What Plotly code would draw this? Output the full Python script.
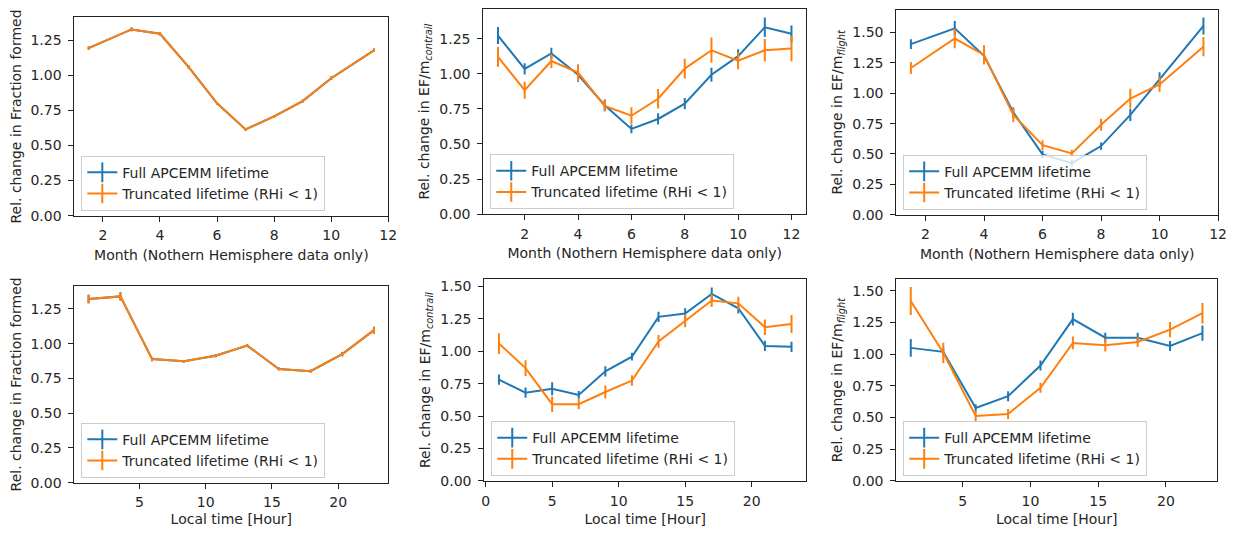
import plotly.graph_objects as go

# page body adds an 8px margin on every side; size the figure so the page is 1243x535
OFF = 8
W, H = 1243 - 2 * OFF, 535 - 2 * OFF
BLUE = "#1f77b4"
ORANGE = "#ff7f0e"
FONT = "DejaVu Sans"
TXT = "#262626"
FS = 14

# ---------------- data ----------------
month_nh = [1.5, 3, 4, 5, 6, 7, 8, 9, 10, 11.5]
month_all = [1, 2, 3, 4, 5, 6, 7, 8, 9, 10, 11, 12]
hour_bins = [1.17, 3.57, 5.96, 8.35, 10.74, 13.13, 15.52, 17.91, 20.30, 22.69]
hour_all = [1, 3, 5, 7, 9, 11, 13, 15, 17, 19, 21, 23]

# Panel 1: fraction formed vs month (both series coincide)
frac_m_full = [1.195, 1.328, 1.297, 1.061, 0.801, 0.615, 0.708, 0.817, 0.980, 1.179]
frac_m_full_err = [0.012, 0.014, 0.013, 0.012, 0.010, 0.010, 0.010, 0.010, 0.012, 0.012]
frac_m_trunc = [1.195, 1.328, 1.297, 1.061, 0.801, 0.615, 0.708, 0.817, 0.980, 1.179]
frac_m_trunc_err = [0.012, 0.014, 0.013, 0.012, 0.010, 0.010, 0.010, 0.010, 0.012, 0.012]

# Panel 2: EF/m_contrail vs month
efc_m_full = [1.273, 1.035, 1.145, 0.993, 0.776, 0.607, 0.678, 0.787, 0.993, 1.126, 1.332, 1.285]
efc_m_full_err = [0.06, 0.04, 0.04, 0.05, 0.04, 0.03, 0.04, 0.04, 0.05, 0.05, 0.07, 0.06]
efc_m_trunc = [1.121, 0.883, 1.091, 1.009, 0.771, 0.701, 0.822, 1.037, 1.168, 1.093, 1.168, 1.180]
efc_m_trunc_err = [0.07, 0.06, 0.05, 0.06, 0.04, 0.06, 0.07, 0.07, 0.09, 0.06, 0.08, 0.09]

# Panel 3: EF/m_flight vs month
eff_m_full = [1.405, 1.535, 1.308, 0.843, 0.497, 0.424, 0.565, 0.822, 1.114, 1.555]
eff_m_full_err = [0.04, 0.06, 0.05, 0.04, 0.03, 0.03, 0.03, 0.05, 0.06, 0.07]
eff_m_trunc = [1.208, 1.451, 1.316, 0.822, 0.573, 0.505, 0.741, 0.957, 1.073, 1.384]
eff_m_trunc_err = [0.05, 0.08, 0.08, 0.06, 0.04, 0.03, 0.05, 0.08, 0.06, 0.08]

# Panel 4: fraction formed vs local time (both series coincide)
frac_h_full = [1.321, 1.340, 0.889, 0.873, 0.913, 0.986, 0.818, 0.802, 0.925, 1.097]
frac_h_full_err = [0.030, 0.030, 0.015, 0.010, 0.010, 0.010, 0.010, 0.010, 0.015, 0.025]
frac_h_trunc = [1.321, 1.340, 0.889, 0.873, 0.913, 0.986, 0.818, 0.802, 0.925, 1.097]
frac_h_trunc_err = [0.030, 0.030, 0.015, 0.010, 0.010, 0.010, 0.010, 0.010, 0.015, 0.025]

# Panel 5: EF/m_contrail vs local time
efc_h_full = [0.781, 0.681, 0.711, 0.663, 0.845, 0.958, 1.265, 1.291, 1.442, 1.331, 1.041, 1.034]
efc_h_full_err = [0.04, 0.04, 0.05, 0.03, 0.04, 0.03, 0.04, 0.04, 0.05, 0.04, 0.04, 0.04]
efc_h_trunc = [1.059, 0.870, 0.592, 0.592, 0.686, 0.774, 1.076, 1.235, 1.391, 1.369, 1.185, 1.210]
efc_h_trunc_err = [0.08, 0.06, 0.06, 0.04, 0.05, 0.04, 0.05, 0.05, 0.05, 0.05, 0.06, 0.07]

# Panel 6: EF/m_flight vs local time
eff_h_full = [1.049, 1.018, 0.575, 0.668, 0.910, 1.276, 1.129, 1.129, 1.064, 1.165]
eff_h_full_err = [0.07, 0.03, 0.03, 0.04, 0.04, 0.05, 0.04, 0.04, 0.04, 0.06]
eff_h_trunc = [1.418, 1.010, 0.513, 0.528, 0.735, 1.088, 1.070, 1.095, 1.193, 1.322]
eff_h_trunc_err = [0.11, 0.08, 0.04, 0.04, 0.04, 0.05, 0.05, 0.04, 0.06, 0.08]

label_full = "Full APCEMM lifetime"
label_trunc = "Truncated lifetime (RHi < 1)"
xlab_month = "Month (Nothern Hemisphere data only)"
xlab_hour = "Local time [Hour]"
ylab_frac = "Rel. change in Fraction formed"
ylab_efc = "Rel. change in EF/m<sub><i>contrail</i></sub>"
ylab_eff = "Rel. change in EF/m<sub><i>flight</i></sub>"

panels = [
    dict(x=month_nh, full=(frac_m_full, frac_m_full_err), trunc=(frac_m_trunc, frac_m_trunc_err),
         xr=[1.0, 12.0], yr=[0, 1.414], xt=[2, 4, 6, 8, 10, 12], yt=[0, 0.25, 0.5, 0.75, 1.0, 1.25],
         xl=xlab_month, yl=ylab_frac, box=(72, 389, 16.5, 218.3)),
    dict(x=month_all, full=(efc_m_full, efc_m_full_err), trunc=(efc_m_trunc, efc_m_trunc_err),
         xr=[0.45, 12.55], yr=[0, 1.46], xt=[2, 4, 6, 8, 10, 12], yt=[0, 0.25, 0.5, 0.75, 1.0, 1.25],
         xl=xlab_month, yl=ylab_efc, box=(485, 811, 8.3, 216.7)),
    dict(x=month_nh, full=(eff_m_full, eff_m_full_err), trunc=(eff_m_trunc, eff_m_trunc_err),
         xr=[1.0, 12.0], yr=[0, 1.686], xt=[2, 4, 6, 8, 10, 12], yt=[0, 0.25, 0.5, 0.75, 1.0, 1.25, 1.5],
         xl=xlab_month, yl=ylab_eff, box=(902, 1227, 9, 217.3)),
    dict(x=hour_bins, full=(frac_h_full, frac_h_full_err), trunc=(frac_h_trunc, frac_h_trunc_err),
         xr=[0.1, 23.77], yr=[0, 1.414], xt=[5, 10, 15, 20], yt=[0, 0.25, 0.5, 0.75, 1.0, 1.25],
         xl=xlab_hour, yl=ylab_frac, box=(72, 389, 290, 490)),
    dict(x=hour_all, full=(efc_h_full, efc_h_full_err), trunc=(efc_h_trunc, efc_h_trunc_err),
         xr=[-0.1, 24.1], yr=[0, 1.555], xt=[0, 5, 10, 15, 20], yt=[0, 0.25, 0.5, 0.75, 1.0, 1.25, 1.5],
         xl=xlab_hour, yl=ylab_efc, box=(486, 811, 283, 488.3)),
    dict(x=hour_bins, full=(eff_h_full, eff_h_full_err), trunc=(eff_h_trunc, eff_h_trunc_err),
         xr=[0.1, 23.77], yr=[0, 1.59], xt=[5, 10, 15, 20], yt=[0, 0.25, 0.5, 0.75, 1.0, 1.25, 1.5],
         xl=xlab_hour, yl=ylab_eff, box=(902, 1226, 283, 488.3)),
]


def px(x):
    return (x - OFF) / W


def py(y):
    return 1 - (y - OFF) / H


fig = go.Figure()
layout = dict(
    width=W, height=H, margin=dict(l=0, r=0, t=0, b=0),
    paper_bgcolor="white", plot_bgcolor="white",
    font=dict(family=FONT, size=FS, color=TXT),
)

for i, p in enumerate(panels, start=1):
    sfx = "" if i == 1 else str(i)
    xa, ya = "x" + sfx, "y" + sfx
    lg = "legend" + sfx
    for (vals, errs), col in ((p["full"], BLUE), (p["trunc"], ORANGE)):
        fig.add_trace(go.Scatter(
            x=p["x"], y=vals, xaxis=xa, yaxis=ya, mode="lines",
            line=dict(color=col, width=2),
            error_y=dict(type="data", array=errs, visible=True, color=col, thickness=2, width=0),
            showlegend=False, hoverinfo="skip",
        ))
    # legend entries (no data; just the legend glyph)
    for col, name in ((BLUE, label_full), (ORANGE, label_trunc)):
        fig.add_trace(go.Scatter(
            x=[None], y=[None], xaxis=xa, yaxis=ya, mode="lines+markers", name=name,
            line=dict(color=col, width=2),
            marker=dict(symbol="line-ns", size=14, color=col, line=dict(color=col, width=2)),
            legend=lg, showlegend=True,
        ))
    l, r, t, b = p["box"]
    axis_common = dict(
        showline=True, mirror=True, linecolor="#222", linewidth=1,
        ticks="outside", ticklen=5, tickwidth=1, tickcolor="#222",
        showgrid=False, zeroline=False, tickfont=dict(size=FS, color=TXT),
    )
    layout["xaxis" + sfx] = dict(
        domain=[px(l), px(r)], anchor=ya, range=p["xr"], tickvals=p["xt"],
        ticklabelstandoff=2,
        title=dict(text=p["xl"], standoff=7, font=dict(size=FS, color=TXT)), **axis_common)
    layout["yaxis" + sfx] = dict(
        domain=[py(b), py(t)], anchor=xa, range=p["yr"], tickvals=p["yt"],
        tickformat=".2f", ticklabelstandoff=4,
        title=dict(text=p["yl"], standoff=6, font=dict(size=FS, color=TXT)), **axis_common)
    layout[lg] = dict(
        x=px(l + 7), y=py(b - 5), xanchor="left", yanchor="bottom",
        bgcolor="rgba(255,255,255,0.8)", bordercolor="#cccccc", borderwidth=1,
        font=dict(size=FS, color=TXT), itemwidth=30, tracegroupgap=0,
    )

fig.update_layout(**layout)
fig.write_html("out.html")
